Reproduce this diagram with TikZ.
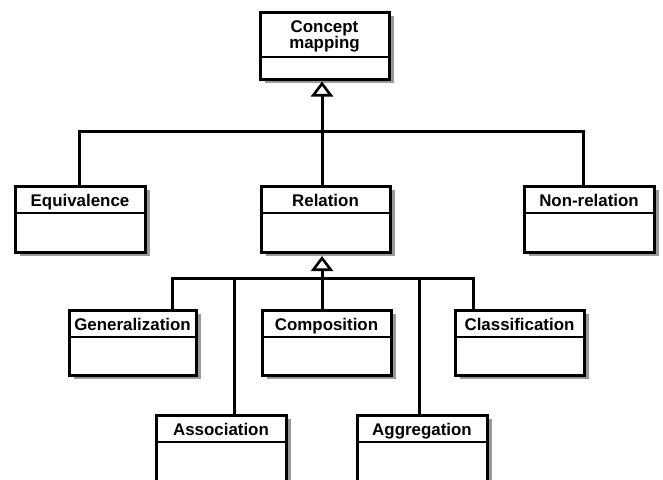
\documentclass[tikz,border=0pt]{standalone}
\usepackage{fontspec}
\setmainfont{Liberation Sans}
\usetikzlibrary{arrows.meta,shadows}

% UML-like class box: name, left x, top y, width, height, header height
\newcommand\umlclass[6]{%
  \node[classbox, minimum width=#4pt, minimum height=#5pt] (#1) at (#2,#3) {};
  \draw[divider] (#1.north west) ++(0,#6) -- ++(#4,0);
}

\begin{document}
\begin{tikzpicture}[x=1pt,y=-1pt,
  line width=3pt,
  classbox/.style={draw, fill=white, rectangle, inner sep=0pt, outer sep=0pt,
    anchor=north west, line width=3pt,
    general shadow={fill=black!40, shadow xshift=4.5pt, shadow yshift=-4pt}},
  divider/.style={line width=2.6pt},
  classname/.style={font=\fontsize{16.9}{16}\selectfont\bfseries, inner sep=0pt,
    align=center, anchor=base},
  link/.style={line width=3pt},
  inherit/.style={link, -{Triangle[open, width=22pt, length=15pt, line width=2.6pt]}}]

\useasboundingbox (0,0) rectangle (663,479);
\clip (0,0) rectangle (663,479);

% classes
\umlclass{cm}{260}{12}{129}{67}{45}
\umlclass{eq}{15}{186}{130}{66}{27}
\umlclass{rel}{261}{186}{129}{66}{27}
\umlclass{nr}{524}{186}{130}{66}{27}
\umlclass{gen}{69}{310}{127}{65}{27}
\umlclass{comp}{262}{310}{129}{65}{27}
\umlclass{cls}{455}{310}{129}{65}{27}
\umlclass{assoc}{156}{415}{130}{75}{27}
\umlclass{aggr}{357}{415}{130}{75}{27}

% class names
\node[classname, anchor=center] (cmname) at ([yshift=-24.5pt]cm.north) {Concept\\mapping};
\node[classname] (eqname) at ([yshift=-20pt]eq.north) {Equivalence};
\node[classname] (relname) at ([yshift=-20pt]rel.north) {Relation};
\node[classname] (nrname) at ([yshift=-20pt]nr.north) {Non-relation};
\node[classname] (genname) at ([yshift=-20pt]gen.north) {Generalization};
\node[classname] (compname) at ([yshift=-20pt]comp.north) {Composition};
\node[classname] (clsname) at ([yshift=-20pt]cls.north) {Classification};
\node[classname] (assocname) at ([yshift=-20pt]assoc.north) {Association};
\node[classname] (aggrname) at ([yshift=-20pt]aggr.north) {Aggregation};

% first level of the hierarchy
\coordinate (busL) at (79,131);
\coordinate (busM) at (322,131);
\coordinate (busR) at (583,131);
\draw[link] (busL |- eq.north) -- (busL) -- (busR) -- (busR |- nr.north);
\draw[inherit, shorten >=2.5pt] (busM |- rel.north) -- (busM |- cm.south);

% second level of the hierarchy
\coordinate (subL) at (172,278);
\coordinate (subA) at (234,278);
\coordinate (subM) at (322,278);
\coordinate (subG) at (419,278);
\coordinate (subR) at (473,278);
\draw[link] (subL |- gen.north) -- (subL) -- (subR) -- (subR |- cls.north);
\draw[link] (subA) -- (subA |- assoc.north);
\draw[link] (subG) -- (subG |- aggr.north);
\draw[inherit, shorten >=4pt] (subM |- comp.north) -- (subM |- rel.south);

\end{tikzpicture}
\end{document}
